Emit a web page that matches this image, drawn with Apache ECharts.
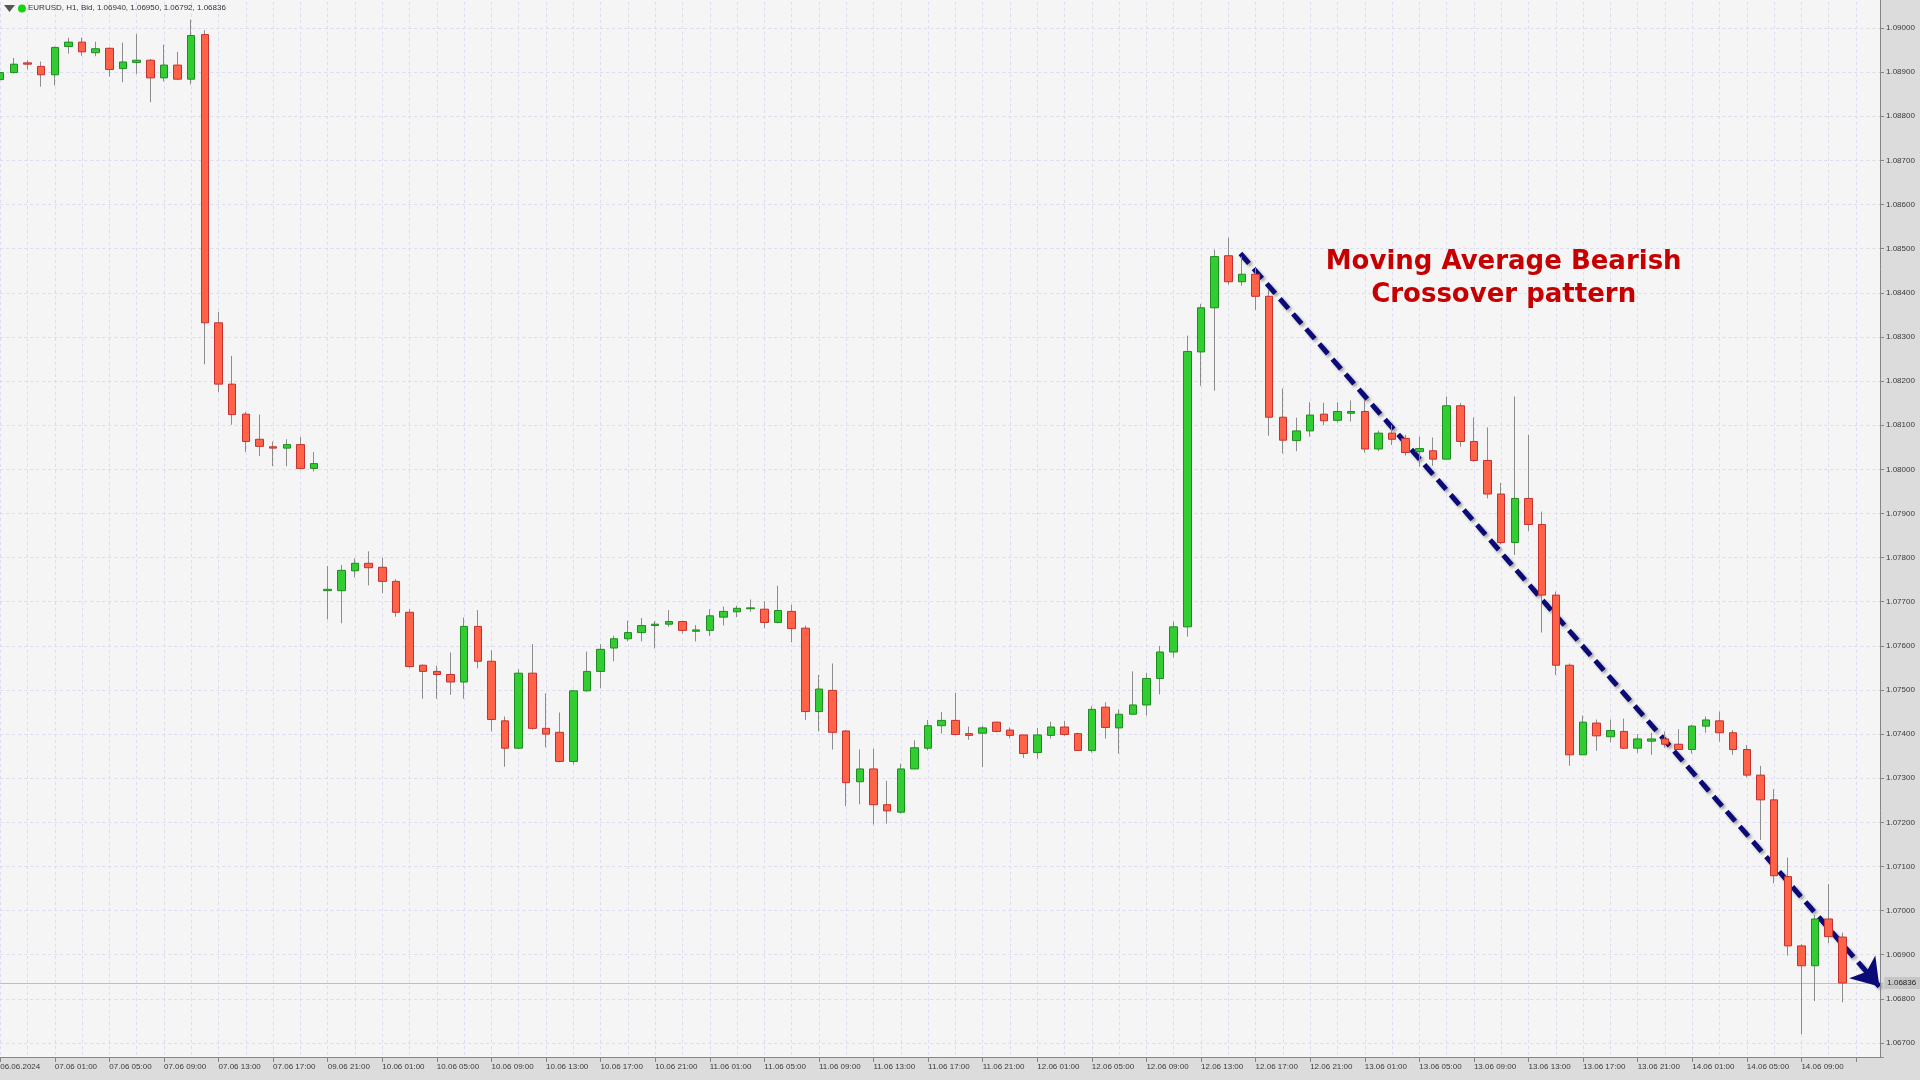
<!DOCTYPE html>
<html><head><meta charset="utf-8">
<script src="https://cdn.jsdelivr.net/npm/echarts@6/dist/echarts.min.js"></script>
<style>html,body{margin:0;padding:0;background:#f5f5f5;overflow:hidden}#c{width:1920px;height:1080px}</style>
</head><body><div id="c"></div>
<script>
// Hourly EURUSD bars, 06.06 21:00 .. 14.06 12:00
const opens = [1.08883,1.08899,1.08921,1.08913,1.08894,1.08958,1.08968,1.08944,1.08954,1.08908,1.08922,1.08927,1.08887,1.08916,1.08884,1.08985,1.08332,1.08193,1.08125,1.08068,1.08051,1.08048,1.08056,1.08002,
1.07725,1.07725,1.07770,1.07787,1.07778,1.07746,1.07676,1.07556,1.07542,1.07535,1.07518,1.07644,1.07565,1.07430,1.07368,1.07538,1.07413,1.07404,1.07338,1.07498,1.07542,1.07595,1.07616,1.07630,1.07646,1.07649,1.07655,1.07633,
1.07635,1.07665,1.07677,1.07684,1.07683,1.07653,1.07678,1.07640,1.07451,1.07499,1.07407,1.07292,1.07321,1.07240,1.07223,1.07321,1.07368,1.07419,1.07431,1.07401,1.07402,1.07427,1.07409,1.07398,
1.07358,1.07397,1.07416,1.07401,1.07363,1.07461,1.07414,1.07445,1.07466,1.07526,1.07586,1.07643,1.08266,1.08366,1.08484,1.08425,1.08442,1.08392,1.08118,1.08065,1.08087,1.08125,1.08111,1.08127,
1.08131,1.08046,1.08082,1.08070,1.08040,1.08042,1.08023,1.08144,1.08063,1.08020,1.07944,1.07834,1.07934,1.07875,1.07715,1.07556,1.07353,1.07425,1.07394,1.07406,1.07368,1.07384,1.07389,1.07377,
1.07365,1.07418,1.07430,1.07403,1.07365,1.07307,1.07251,1.07077,1.06920,1.06875,1.06981,1.06940];
const highs = [1.08912,1.08932,1.08927,1.08924,1.08958,1.08978,1.08978,1.08969,1.08956,1.08967,1.08986,1.08930,1.08962,1.08946,1.09019,1.08995,1.08357,1.08257,1.08130,1.08124,1.08063,1.08068,1.08073,1.08039,
1.07781,1.07783,1.07798,1.07814,1.07800,1.07751,1.07683,1.07558,1.07555,1.07585,1.07664,1.07681,1.07590,1.07440,1.07547,1.07604,1.07492,1.07449,1.07500,1.07587,1.07604,1.07623,1.07657,1.07663,1.07656,1.07681,1.07657,1.07647,
1.07683,1.07689,1.07691,1.07705,1.07701,1.07736,1.07693,1.07646,1.07534,1.07560,1.07409,1.07365,1.07367,1.07294,1.07333,1.07386,1.07432,1.07450,1.07493,1.07417,1.07419,1.07428,1.07415,1.07398,
1.07414,1.07428,1.07430,1.07403,1.07463,1.07472,1.07456,1.07542,1.07539,1.07600,1.07655,1.08303,1.08375,1.08498,1.08525,1.08482,1.08456,1.08406,1.08183,1.08117,1.08152,1.08151,1.08152,1.08156,
1.08157,1.08088,1.08100,1.08078,1.08074,1.08072,1.08165,1.08150,1.08117,1.08095,1.07969,1.08165,1.08078,1.07904,1.07723,1.07560,1.07442,1.07433,1.07433,1.07435,1.07400,1.07403,1.07406,1.07411,
1.07421,1.07440,1.07451,1.07409,1.07375,1.07328,1.07275,1.07120,1.06924,1.06990,1.07060,1.06950];
const lows = [1.08874,1.08897,1.08906,1.08867,1.08870,1.08942,1.08937,1.08936,1.08890,1.08877,1.08896,1.08832,1.08879,1.08882,1.08872,1.08238,1.08175,1.08101,1.08039,1.08030,1.08007,1.08007,1.08000,1.07995,
1.07660,1.07651,1.07755,1.07737,1.07719,1.07666,1.07550,1.07480,1.07480,1.07489,1.07480,1.07549,1.07406,1.07326,1.07366,1.07410,1.07370,1.07336,1.07331,1.07496,1.07504,1.07565,1.07610,1.07610,1.07594,1.07643,1.07628,1.07610,
1.07622,1.07646,1.07665,1.07677,1.07640,1.07651,1.07608,1.07432,1.07406,1.07365,1.07237,1.07241,1.07195,1.07197,1.07220,1.07321,1.07363,1.07401,1.07397,1.07387,1.07325,1.07404,1.07390,1.07346,
1.07344,1.07390,1.07396,1.07363,1.07358,1.07390,1.07356,1.07445,1.07442,1.07490,1.07574,1.07621,1.08189,1.08178,1.08419,1.08416,1.08361,1.08076,1.08036,1.08041,1.08074,1.08100,1.08106,1.08108,
1.08038,1.08041,1.08055,1.08031,1.08006,1.08008,1.08023,1.08051,1.08017,1.07934,1.07830,1.07806,1.07860,1.07630,1.07534,1.07328,1.07353,1.07362,1.07381,1.07366,1.07357,1.07353,1.07369,1.07365,
1.07356,1.07403,1.07383,1.07353,1.07302,1.07160,1.07062,1.06898,1.06720,1.06795,1.06926,1.06792];
const closes = [1.08899,1.08918,1.08918,1.08894,1.08956,1.08968,1.08946,1.08953,1.08906,1.08923,1.08927,1.08887,1.08916,1.08884,1.08983,1.08332,1.08193,1.08124,1.08063,1.08052,1.08048,1.08056,1.08002,1.08013,
1.07728,1.07771,1.07787,1.07777,1.07746,1.07676,1.07553,1.07542,1.07535,1.07518,1.07644,1.07565,1.07433,1.07368,1.07538,1.07413,1.07400,1.07338,1.07498,1.07542,1.07592,1.07616,1.07630,1.07646,1.07649,1.07655,1.07635,1.07636,
1.07668,1.07678,1.07685,1.07686,1.07653,1.07680,1.07639,1.07451,1.07502,1.07404,1.07290,1.07321,1.07240,1.07226,1.07321,1.07369,1.07419,1.07431,1.07399,1.07397,1.07414,1.07406,1.07397,1.07356,
1.07398,1.07416,1.07399,1.07363,1.07456,1.07415,1.07445,1.07466,1.07526,1.07586,1.07643,1.08267,1.08366,1.08482,1.08425,1.08442,1.08392,1.08118,1.08066,1.08087,1.08123,1.08110,1.08131,1.08131,
1.08046,1.08082,1.08068,1.08038,1.08047,1.08023,1.08144,1.08063,1.08020,1.07944,1.07834,1.07934,1.07875,1.07715,1.07556,1.07353,1.07427,1.07396,1.07408,1.07368,1.07389,1.07389,1.07377,1.07365,
1.07418,1.07432,1.07403,1.07365,1.07307,1.07251,1.07079,1.06920,1.06875,1.06981,1.06941,1.06836];

// trading sessions (day, first hour, last hour) used for the time axis
const sessions = [['06.06',21,23],['07.06',0,20],['09.06',21,23],['10.06',0,23],['11.06',0,23],['12.06',0,23],['13.06',0,23],['14.06',0,15]];
const firstLabel = '06.06.2024';
const currentPrice = 1.06836;
const noteText = 'Moving Average Bearish\nCrossover pattern';
const arrowFrom = [90.89, 1.08489];
const arrowTo = [137.71, 1.06828];
const notePos = [110.18, 1.08432];

const categories = [];
sessions.forEach(s => { for (let h = s[1]; h <= s[2]; h++) categories.push(s[0] + ' ' + String(h).padStart(2,'0') + ':00'); });
const nData = opens.length;
const ohlc = opens.map((o,i) => [o, closes[i], lows[i], highs[i]]);
const bodies = opens.map((o,i) => [o, closes[i], Math.min(o,closes[i]), Math.max(o,closes[i])]);

// layout (pixels)
const pxPerBar = 13.6455, pxPerUnit = 44130, y090 = 28, axisY = 1057, axisX = 1880;
const gridLeft = 0.2;
const gridWidth = (categories.length - 1) * pxPerBar;
const yMin = 1.066, yMax = 1.091;
const gridTop = y090 - (yMax - 1.09) * pxPerUnit;
const gridHeight = (yMax - yMin) * pxPerUnit;

const chart = echarts.init(document.getElementById('c'), null, {renderer:'canvas'});
const font = 'Liberation Sans';
const gridLine = {show:true, lineStyle:{color:'#dcdcee', type:[3,3], width:1}};
const last = nData - 1;
chart.setOption({
  animation:false,
  backgroundColor:'#f5f5f5',
  grid:{left:gridLeft, top:gridTop, width:gridWidth, height:gridHeight, containLabel:false, outerBoundsMode:'none'},
  xAxis:[{
    type:'category', data:categories, boundaryGap:false, position:'bottom',
    offset: axisY - (gridTop + gridHeight), z:200,
    axisLine:{show:true, onZero:false, lineStyle:{color:'#858585', width:1}},
    axisTick:{show:true, interval:3, length:5, lineStyle:{color:'#858585'}},
    axisLabel:{show:true, interval:3, align:'left', margin:6, fontSize:8, fontFamily:font, color:'#3a3a3a',
      formatter:(v,i)=> i===0 ? firstLabel : (i>=nData ? '' : v)},
    splitLine:{show:false}
  },{
    type:'value', min:0, max:categories.length-1, interval:2, position:'top', z:0,
    axisLine:{show:false}, axisTick:{show:false}, axisLabel:{show:false}, splitLine:gridLine
  }],
  yAxis:[{
    type:'value', position:'right', min:yMin, max:yMax, interval:0.001,
    offset: axisX - (gridLeft + gridWidth), z:5,
    axisLine:{show:true, onZero:false, lineStyle:{color:'#858585', width:1}},
    axisTick:{show:true, length:4, lineStyle:{color:'#858585'}},
    axisLabel:{show:true, margin:6, fontSize:8, fontFamily:font, color:'#3a3a3a', formatter:v=>v.toFixed(5)},
    splitLine:gridLine
  }],
  series:[{
    name:'wicks', type:'candlestick', xAxisIndex:0, yAxisIndex:0, data:ohlc, barWidth:1, z:10, silent:true,
    itemStyle:{color:'#8c8c8c', color0:'#8c8c8c', borderColor:'#8c8c8c', borderColor0:'#8c8c8c', borderColorDoji:'#8c8c8c', borderWidth:1}
  },{
    name:'bodies', type:'candlestick', xAxisIndex:0, yAxisIndex:0, data:bodies, barWidth:8, z:11, silent:true,
    itemStyle:{color:'#32cd32', color0:'#ff6347', borderColor:'#1f8c1f', borderColor0:'#c73030', borderWidth:1},
    markLine:{silent:true, symbol:['none','none'], animation:false, precision:5,
      lineStyle:{color:'#bdbdbd', type:'solid', width:1},
      label:{show:true, position:'end', distance:1, formatter:currentPrice.toFixed(5), fontSize:8, fontFamily:font,
        color:'#222', backgroundColor:'#c6c6c6', padding:[2,6,2,3]},
      data:[{yAxis:currentPrice}]}
  },{
    name:'note', type:'line', xAxisIndex:1, yAxisIndex:0, data:[], z:20, silent:true, showSymbol:false,
    markLine:{silent:true, animation:false, precision:5, symbol:['none','arrow'], symbolSize:26,
      itemStyle:{color:'#0a0a78'},
      lineStyle:{color:'#0a0a78', width:5, type:[13,7], cap:'butt', shadowColor:'rgba(0,0,0,0.35)', shadowBlur:3, shadowOffsetX:2, shadowOffsetY:2},
      label:{show:false},
      data:[[{coord:arrowFrom},{coord:arrowTo}]]},
    markPoint:{silent:true, animation:false, symbol:'circle', symbolSize:1, itemStyle:{color:'rgba(0,0,0,0)'},
      label:{show:true, position:'inside', formatter:noteText, color:'#c60000', fontSize:26, fontWeight:'bold',
        fontFamily:'DejaVu Sans', lineHeight:33, align:'center'},
      data:[{coord:notePos}]}
  }],
  graphic:[
    {type:'rect', z:1, silent:true, shape:{x:axisX, y:0, width:1920-axisX, height:axisY}, style:{fill:'#dcdcdc'}},
    {type:'rect', z:100, silent:true, shape:{x:0, y:axisY, width:1920, height:1080-axisY}, style:{fill:'#dcdcdc'}},
    {type:'polygon', z:300, silent:true, shape:{points:[[4,5],[15,5],[9.5,12]]}, style:{fill:'#555555'}},
    {type:'circle', z:300, silent:true, shape:{cx:22, cy:8.5, r:4}, style:{fill:'#13d613'}},
    {type:'text', z:300, silent:true, x:28, y:8, style:{text:'EURUSD, H1, Bid, ' + [opens[last],highs[last],lows[last],closes[last]].map(v=>v.toFixed(5)).join(', '),
      fontSize:8, fontFamily:font, fill:'#333333', verticalAlign:'middle'}}
  ]
});
</script></body></html>
